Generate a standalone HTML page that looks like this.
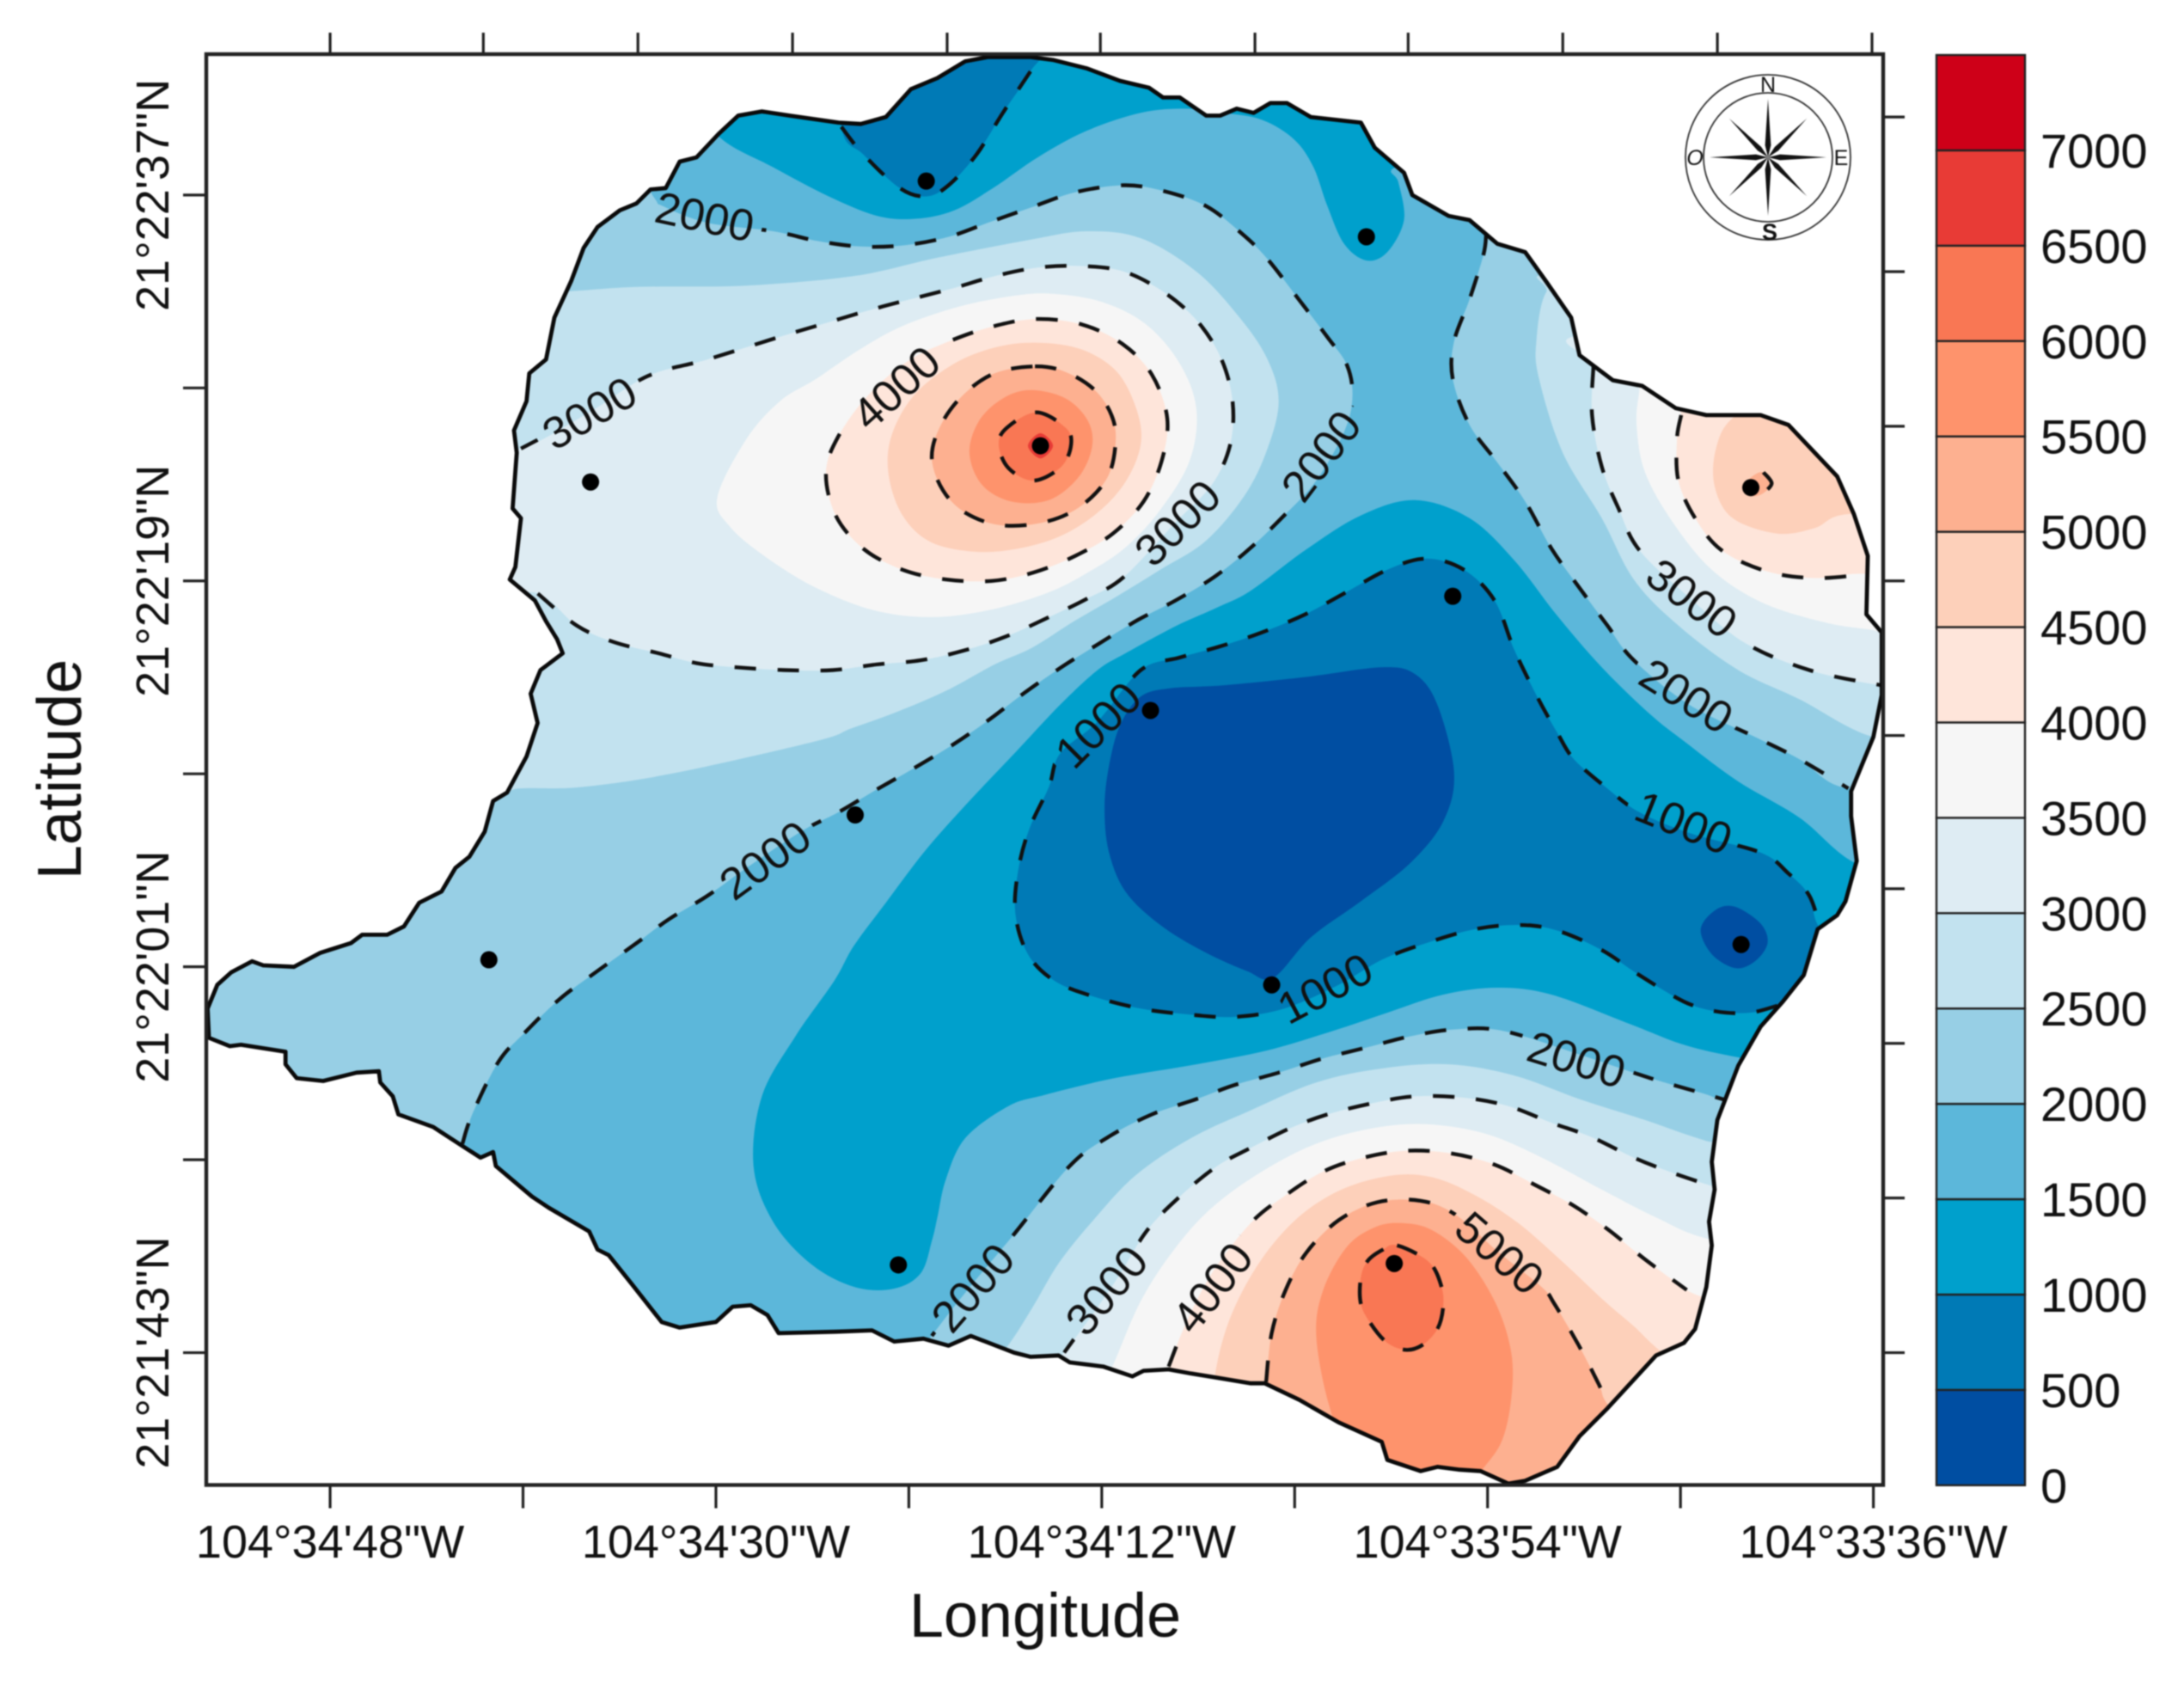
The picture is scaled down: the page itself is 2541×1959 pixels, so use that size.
<!DOCTYPE html>
<html lang="en">
<head>
<meta charset="utf-8">
<title>Contour map of values by longitude and latitude</title>
<style>
html,body{margin:0;padding:0;background:#fff;}
svg{display:block;filter:blur(0.7px);}
text{font-family:"Liberation Sans",sans-serif;fill:#111;}
</style>
</head>
<body>
<svg id="chart" xmlns="http://www.w3.org/2000/svg" width="2541" height="1959" viewBox="0 0 2541 1959">
  <defs>
    <clipPath id="coast-clip"><path id="coast-clip-path" d=""/></clipPath>
    <mask id="label-gaps" maskUnits="userSpaceOnUse" x="0" y="0" width="2541" height="1959">
      <rect x="0" y="0" width="2541" height="1959" fill="#fff"/>
    </mask>
  </defs>
  <g id="fills" clip-path="url(#coast-clip)"></g>
  <g clip-path="url(#coast-clip)"><g id="lines" mask="url(#label-gaps)"></g></g>
  <g id="outline"></g>
  <g id="stations"></g>
  <g id="contour-labels"></g>
  <rect x="240" y="63" width="1951" height="1664.5" fill="none" stroke="#222" stroke-width="4.4"/>
  <g id="axes"></g>
  <text x="1216" y="1904" font-size="72" text-anchor="middle">Longitude</text>
  <text transform="translate(94,895) rotate(-90)" font-size="72" text-anchor="middle">Latitude</text>
  <g id="colorbar"></g>
  <g transform="translate(2057,183)">
    <circle r="96" fill="#fff" stroke="#333" stroke-width="1.8"/>
    <circle r="75" fill="none" stroke="#333" stroke-width="1.8"/>
    <g fill="#111">
      <polygon points="0,-68 3.4,-14 0,0 -3.4,-14"/>
      <polygon points="0,-68 3.4,-14 0,0 -3.4,-14" transform="rotate(90)"/>
      <polygon points="0,-68 3.4,-14 0,0 -3.4,-14" transform="rotate(180)"/>
      <polygon points="0,-68 3.4,-14 0,0 -3.4,-14" transform="rotate(270)"/>
      <polygon points="0,-64 3,-14 0,0 -3,-14" transform="rotate(45)"/>
      <polygon points="0,-64 3,-14 0,0 -3,-14" transform="rotate(135)"/>
      <polygon points="0,-64 3,-14 0,0 -3,-14" transform="rotate(225)"/>
      <polygon points="0,-64 3,-14 0,0 -3,-14" transform="rotate(315)"/>
    </g>
    <text x="0" y="-76" font-size="25" text-anchor="middle">N</text>
    <text x="2" y="96" font-size="27" font-weight="bold" text-anchor="middle">S</text>
    <text x="85" y="9" font-size="25" text-anchor="middle">E</text>
    <text x="-85" y="9" font-size="25" font-style="italic" text-anchor="middle">O</text>
  </g>
</svg>
<script>
// All map geometry is [east, north] in map-grid units (277 units = 18 arc seconds).
const boundary = [[-50,255],[-51,276],[-44,293],[-34,302],[-19,310],[-11,307],[11,306],[30,316],[52,323],[60,329],[78,329],[90,335],[101,352],[117,360],[127,377],[137,385],[148,403],[154,425],[164,431],[178,457],[186,481],[181,502],[188,519],[204,531],[200,541],[192,554],[184,569],[166,584],[170,593],[174,628],[168,635],[171,675],[169,691],[178,712],[180,732],[192,742],[198,772],[210,798],[219,822],[229,837],[245,849],[257,854],[267,864],[278,865],[288,884],[300,887],[316,904],[330,917],[347,920],[367,917],[402,912],[418,911],[436,916],[454,936],[473,944],[493,956],[509,959],[540,959],[556,957],[580,951],[604,942],[625,937],[635,930],[647,930],[666,917],[676,917],[688,922],[700,919],[712,926],[724,926],[741,916],[777,912],[787,894],[808,876],[814,860],[840,845],[855,842],[875,825],[895,819],[910,798],[928,772],[934,745],[958,727],[979,723],[1003,707],[1025,702],[1064,702],[1084,695],[1119,658],[1131,631],[1141,601],[1140,559],[1151,546],[1151,501],[1145,471],[1129,432],[1129,414],[1133,382],[1125,353],[1119,343],[1105,333],[1095,300],[1080,281],[1064,263],[1048,235],[1033,196],[1029,166],[1031,146],[1027,123],[1029,106],[1025,76],[1017,46],[1009,36],[989,27],[954,-11],[934,-31],[918,-53],[895,-63],[883,-65],[863,-56],[848,-55],[832,-53],[820,-56],[796,-48],[792,-35],[761,-21],[733,-5],[708,7],[698,7],[674,11],[655,14],[639,17],[621,16],[613,12],[592,19],[568,22],[560,27],[540,26],[528,29],[497,41],[481,34],[463,39],[442,37],[426,45],[400,44],[359,43],[351,56],[339,63],[326,62],[314,51],[288,47],[275,51],[253,79],[237,99],[229,103],[223,116],[194,133],[182,141],[156,163],[154,173],[145,169],[131,178],[111,191],[86,200],[82,213],[73,223],[72,231],[56,230],[32,224],[13,226],[5,236],[5,245],[-27,250],[-35,249]];

const c2000West = [[132,179],[139,200],[158,238],[178,260],[202,283],[229,303],[257,323],[280,340],[308,357],[336,377],[375,403],[402,417],[429,433],[457,449],[485,466],[511,484],[536,503],[562,521],[589,538],[617,555],[644,569],[672,586],[697,606],[722,630],[745,655],[765,690],[771,715],[767,738],[753,758],[731,787],[710,814],[692,832],[666,852],[635,863],[607,867],[572,862],[540,851],[509,840],[481,830],[450,824],[418,823],[387,827],[355,834],[308,840],[276,852],[269,859]];
const c2000WestOut = [[240,900],[150,800],[140,500],[0,400],[-100,280],[-50,200],[100,140]];
const c2000East = [[867,832],[865,817],[855,785],[844,755],[843,728],[855,695],[875,668],[895,640],[914,606],[934,578],[954,551],[973,526],[1013,494],[1060,471],[1092,455],[1127,434]];
const c2000EastOut = [[1200,440],[1230,720],[1000,850],[880,860]];
const c2000South = [[469,41],[493,72],[528,114],[568,163],[596,184],[627,200],[659,211],[686,221],[718,230],[749,240],[781,248],[812,256],[844,261],[879,260],[934,243],[985,226],[1023,215],[1040,210]];
const c2000SouthOut = [[1100,200],[1100,-100],[500,-100],[440,0]];

const f2500West = [[210,791],[257,794],[336,795],[414,802],[473,815],[540,828],[580,834],[619,829],[659,805],[690,772],[710,742],[718,712],[710,678],[694,645],[666,612],[633,591],[602,572],[571,554],[541,535],[514,523],[479,504],[444,489],[411,477],[386,468],[284,445],[217,435],[172,434],[130,430],[130,600],[170,790]];
const f2500East = [[910,790],[903,755],[905,728],[922,675],[950,628],[973,584],[1005,551],[1048,519],[1092,498],[1145,471],[1200,470],[1200,750],[930,800]];
const f2500South = [[522,32],[541,61],[560,93],[584,123],[615,156],[655,183],[698,203],[745,223],[792,233],[840,236],[887,228],[934,211],[981,196],[1025,181],[1100,160],[1100,-100],[500,-100],[500,10]];

const c3000West = [[174,678],[223,704],[265,730],[308,742],[359,758],[386,766],[423,777],[453,785],[484,793],[515,802],[546,808],[577,809],[607,805],[636,790],[660,769],[677,742],[685,711],[683,680],[670,652],[644,625],[607,586],[580,570],[551,556],[522,543],[492,533],[461,526],[429,523],[398,519],[363,519],[328,521],[300,524],[273,531],[241,539],[214,551],[186,574]];
const c3000WestOut = [[140,580],[140,680]];
const c3000East = [[944,737],[943,702],[950,665],[962,635],[977,605],[1013,571],[1052,539],[1099,519],[1151,508]];
const c3000EastOut = [[1220,500],[1220,750],[945,760]];
const c3000South = [[564,29],[600,79],[623,116],[647,141],[674,163],[698,176],[726,190],[753,200],[785,208],[816,213],[851,212],[883,206],[914,194],[942,184],[973,169],[1001,158],[1031,148]];
const c3000SouthOut = [[1090,130],[1090,-100],[540,-100],[545,10]];

const f3500Center = [[315,643],[336,685],[360,712],[386,728],[417,749],[448,766],[489,780],[530,788],[557,789],[592,783],[623,767],[647,739],[659,706],[654,669],[633,634],[608,607],[581,589],[551,574],[510,562],[468,557],[427,562],[386,578],[350,600],[324,622]];
const f3500East = [[977,720],[975,695],[981,661],[1001,625],[1029,591],[1064,568],[1107,554],[1143,548],[1220,540],[1220,740],[980,740]];
const f3500South = [[600,22],[619,66],[643,103],[670,133],[706,159],[745,179],[785,190],[824,193],[867,186],[907,169],[950,146],[989,126],[1025,111],[1090,100],[1090,-100],[590,-100],[590,0]];

const c4000Center = [[544,771],[577,767],[606,753],[627,731],[638,700],[634,669],[621,640],[599,617],[572,601],[542,589],[512,583],[479,584],[448,591],[420,606],[400,630],[393,661],[402,687],[423,716],[452,741],[484,756],[514,766]];
const c4000East = [[1007,702],[1004,685],[1005,655],[1017,628],[1036,605],[1068,590],[1103,585],[1141,588]];
const c4000EastOut = [[1220,580],[1220,730],[1010,730]];
const c4000South = [[639,19],[651,49],[670,86],[698,122],[723,142],[750,159],[779,169],[810,174],[842,172],[873,164],[901,150],[929,135],[955,117],[981,96],[1011,74]];
const c4000SouthOut = [[1060,40],[1060,-100],[630,-100],[630,0]];

const f4500Center = [[546,754],[577,749],[602,733],[616,706],[619,681],[608,654],[588,632],[561,615],[530,606],[499,604],[468,611],[448,630],[438,659],[440,687],[456,716],[485,739],[516,751]];
const f4500East = [[1044,700],[1032,678],[1031,651],[1044,628],[1076,617],[1103,621],[1127,631],[1200,630],[1200,720],[1080,720]];
const f4500South = [[673,17],[684,56],[705,95],[732,126],[763,146],[798,156],[828,155],[859,142],[890,122],[921,95],[952,66],[973,48],[991,31],[1030,0],[1000,-100],[660,-100],[670,-20]];

const c5000Center = [[543,737],[565,733],[586,720],[598,702],[601,683],[595,657],[575,636],[549,625],[518,623],[493,632],[477,648],[469,671],[475,694],[491,716],[514,732]];
const c5000East = [[1066,661],[1072,653],[1066,646]];
const c5000EastOut = [[1058,644],[1052,650],[1058,658]];
const c5000South = [[709,8],[713,43],[723,74],[738,101],[761,124],[789,137],[820,138],[845,128],[876,101],[907,76],[916,64],[933,35],[948,6],[954,-8]];
const c5000SouthOut = [[980,-40],[900,-100],[700,-100],[705,-20]];

const f5500Center = [[540,720],[565,714],[581,698],[584,679],[574,657],[553,641],[526,640],[505,652],[496,675],[503,698],[520,714]];
const f5500South = [[745,41],[750,74],[767,105],[787,119],[806,122],[828,117],[853,97],[874,64],[885,29],[885,-4],[878,-35],[863,-57],[857,-70],[808,-70],[767,-35],[754,-8]];

const c6000Center = [[544,704],[565,693],[569,681],[562,665],[542,655],[524,664],[517,681],[523,693]];
const c6000South = [[803,106],[826,94],[835,76],[836,61],[832,46],[822,35],[810,31],[796,36],[784,50],[777,64],[777,83],[782,95],[793,103]];
const f6500Center = [[538,680],[547,689],[556,680],[547,671]];

const l1500North = [[316,902],[355,880],[395,859],[430,845],[458,843],[485,849],[513,865],[545,887],[580,906],[619,919],[651,922],[678,919],[706,914],[729,900],[743,880],[753,852],[765,825],[781,813],[796,819],[808,842],[804,869],[800,879],[830,890],[750,970],[400,980],[290,940]];
const l1500Center = [[469,109],[461,86],[442,75],[414,76],[383,92],[355,123],[341,163],[347,213],[371,256],[399,296],[413,321],[436,352],[464,389],[495,424],[530,461],[561,494],[588,519],[608,531],[643,550],[674,564],[698,576],[737,605],[777,630],[816,641],[855,628],[887,598],[918,558],[950,521],[985,487],[1009,468],[1048,439],[1092,413],[1129,382],[1180,360],[1180,240],[1090,235],[1048,241],[1009,250],[970,265],[914,286],[875,291],[836,286],[796,273],[757,260],[710,246],[659,236],[600,226],[550,214],[524,206],[493,183],[479,153],[473,126]];
const c1000North = [[404,909],[420,889],[446,865],[465,859],[481,867],[501,889],[520,919],[540,949]];
const c1000NorthOut = [[560,990],[400,990]];
const c1000Center = [[1076,278],[1056,273],[1032,274],[1009,281],[977,300],[950,318],[918,332],[891,336],[859,333],[824,323],[792,311],[761,293],[722,276],[686,270],[651,272],[619,276],[584,285],[557,296],[538,315],[529,344],[531,375],[539,405],[553,435],[561,459],[588,482],[619,519],[647,528],[676,536],[706,546],[737,559],[765,574],[796,591],[824,599],[851,591],[873,569],[887,534],[903,501],[918,474],[930,455],[954,434],[977,417],[1013,402],[1064,388],[1084,373],[1099,357],[1107,333]];
const c1000CenterOut = [[1140,300]];
const l500Center = [[641,506],[678,508],[737,514],[792,521],[816,516],[832,494],[844,445],[836,410],[812,380],[777,353],[741,327],[714,298],[695,303],[664,317],[633,336],[608,360],[596,389],[593,420],[596,449],[604,479],[619,500]];
const l500East = [[1021,333],[1032,347],[1046,349],[1064,337],[1069,323],[1060,310],[1046,305],[1029,315]];

const stationEast = [465,781,224,547,1057,843,626,414,151,1050,713,801,445];
const stationNorth = [870,830,654,680,650,572,490,415,311,322,293,93,92];

const labelText = ["2000","3000","4000","3000","2000","3000","2000","1000","1000","2000","1000","2000","2000","3000","4000","5000"];
const labelEast = [306,223,443,645,748,1015,1011,1009,588,349,751,932,498,594,670,877];
const labelNorth = [845,704,722,625,673,571,501,410,480,383,291,240,76,74,76,101];
const labelAngle = [12,-30,-42,-45,-53,37,32,22,-45,-36,-28,17,-49,-50,-52,41];

const bandValues = [0,500,1000,1500,2000,2500,3000,3500,4000,4500,5000,5500,6000,6500,7000,7500];
const bandColors = ["#004ea2","#007ab6","#00a0cc","#5cb7da","#97cfe5","#c2e2ef","#deecf3","#f6f6f6","#fee5da","#fdd0ba","#fdb090","#fe936c","#f97754","#e83b36","#ce0018"];
const colorbarTicks = [0,500,1000,1500,2000,2500,3000,3500,4000,4500,5000,5500,6000,6500,7000];

const lonTickSeconds = [108,99,90,81,72,63,54,45,36];
const lonTickLabels = ["104°34'48\"W","","104°34'30\"W","","104°34'12\"W","","104°33'54\"W","","104°33'36\"W"];
const latTickSeconds = [97,88,79,70,61,52,43];
const latTickLabels = ["21°22'37\"N","","21°22'19\"N","","21°22'01\"N","","21°21'43\"N"];
const topTickEast = [37,147,258,369,480,590,701,811,922,1033,1144];
const rightTickNorth = [916,805,694,583,472,362,251,140,29];

const UNIT = 2541 / 1568;
const xAxis = e => (e + 200) * UNIT;
const yAxis = n => (1000 - n) * UNIT;
const lonToEast = s => 37 + (108 - s) * 277 / 18;
const latToNorth = s => 29 + (s - 43) * 277 / 18;
const colorY = v => 1727.8 - v * (1727.8 - 64) / 7500;

const NS = 'http://www.w3.org/2000/svg';
function mk(tag, attrs, parent) {
  const el = document.createElementNS(NS, tag);
  for (const k in attrs) el.setAttribute(k, attrs[k]);
  parent.appendChild(el);
  return el;
}
const toPx = pts => pts.map(p => [xAxis(p[0]), yAxis(p[1])]);
function polyPath(pts) {
  return 'M' + toPx(pts).map(p => p[0].toFixed(1) + ' ' + p[1].toFixed(1)).join('L') + 'Z';
}
function smoothPath(pts, closed) {
  const q = toPx(pts), n = q.length;
  const at = i => closed ? q[(i + n) % n] : q[Math.max(0, Math.min(n - 1, i))];
  let d = 'M' + q[0][0].toFixed(1) + ' ' + q[0][1].toFixed(1);
  const last = closed ? n : n - 1;
  for (let i = 0; i < last; i++) {
    const p0 = at(i - 1), p1 = at(i), p2 = at(i + 1), p3 = at(i + 2);
    d += 'C' + (p1[0] + (p2[0] - p0[0]) / 6).toFixed(1) + ' ' + (p1[1] + (p2[1] - p0[1]) / 6).toFixed(1) + ' ' +
      (p2[0] - (p3[0] - p1[0]) / 6).toFixed(1) + ' ' + (p2[1] - (p3[1] - p1[1]) / 6).toFixed(1) + ' ' +
      p2[0].toFixed(1) + ' ' + p2[1].toFixed(1);
  }
  return d + (closed ? 'Z' : '');
}

document.getElementById('coast-clip-path').setAttribute('d', polyPath(boundary));

const fillsG = document.getElementById('fills');
const basePath = mk('path', {d: polyPath(boundary), fill: bandColors[3]}, fillsG);



// Painter's order: [band lower value, region outline, outside closure]
const layers = [
  [2000,c2000West,c2000WestOut],[2000,c2000East,c2000EastOut],[2000,c2000South,c2000SouthOut],
  [2500,f2500West,[]],[2500,f2500East,[]],[2500,f2500South,[]],
  [3000,c3000West,c3000WestOut],[3000,c3000East,c3000EastOut],[3000,c3000South,c3000SouthOut],
  [3500,f3500Center,[]],[3500,f3500East,[]],[3500,f3500South,[]],
  [4000,c4000Center,[]],[4000,c4000East,c4000EastOut],[4000,c4000South,c4000SouthOut],
  [4500,f4500Center,[]],[4500,f4500East,[]],[4500,f4500South,[]],
  [5000,c5000Center,[]],[5000,c5000East,c5000EastOut],[5000,c5000South,c5000SouthOut],
  [5500,f5500Center,[]],[5500,f5500South,[]],
  [6000,c6000Center,[]],[6000,c6000South,[]],[6500,f6500Center,[]],
  [1000,l1500North,[]],[1000,l1500Center,[]],
  [500,c1000North,c1000NorthOut],[500,c1000Center,c1000CenterOut],
  [0,l500Center,[]],[0,l500East,[]]
];
layers.forEach(layer => {
  const f = mk('path', {d: smoothPath(layer[1].concat(layer[2]), true), fill: bandColors[bandValues.indexOf(layer[0])]}, fillsG);
  
  
});

// Dashed isolines: [points, closed]
const isolines = [
  [c2000West,false],[c2000East,false],[c2000South,false],
  [c3000West,false],[c3000East,false],[c3000South,false],
  [c4000Center,true],[c4000East,false],[c4000South,false],
  [c5000Center,true],[c5000East,false],[c5000South,false],
  [c6000Center,true],[c6000South,true],
  [c1000North,false],[c1000Center,false]
];
const linesG = document.getElementById('lines');
isolines.forEach(item => {
  const l = mk('path', {d: smoothPath(item[0], item[1]), fill: 'none', stroke: '#111', 'stroke-width': 4.4, 'stroke-dasharray': '25 25'}, linesG);
  
  
});

const outlineG = document.getElementById('outline');
const coast = mk('path', {d: polyPath(boundary), fill: 'none', stroke: '#0a0a0a', 'stroke-width': 4.8, 'stroke-linejoin': 'round'}, outlineG);



const stationG = document.getElementById('stations');
stationEast.forEach((e, i) => {
  const c = mk('circle', {cx: xAxis(e), cy: yAxis(stationNorth[i]), r: 10, fill: '#000'}, stationG);
  
  
});

const labelG = document.getElementById('contour-labels');
const maskEl = document.getElementById('label-gaps');
labelText.forEach((t, i) => {
  const x = xAxis(labelEast[i]), y = yAxis(labelNorth[i]), a = labelAngle[i];
  mk('rect', {x: -68, y: -24, width: 136, height: 48, fill: '#000', transform: 'translate(' + x + ',' + y + ') rotate(' + a + ')'}, maskEl);
  const tx = mk('text', {transform: 'translate(' + x + ',' + y + ') rotate(' + a + ')', 'font-size': 52, 'text-anchor': 'middle', y: 19}, labelG);
  tx.textContent = t;
  
  
});

const axesG = document.getElementById('axes');
const FRAME_L = 240, FRAME_R = 2191, FRAME_T = 63, FRAME_B = 1727.5;
lonTickSeconds.forEach((s, i) => {
  const x = xAxis(lonToEast(s));
  const t = mk('line', {x1: x, x2: x, y1: FRAME_B, y2: FRAME_B + 27, stroke: '#222', 'stroke-width': 3.2}, axesG);
  
  
  if (lonTickLabels[i]) {
    const lab = mk('text', {x: x, y: 1812, 'font-size': 54, 'text-anchor': 'middle'}, axesG);
    lab.textContent = lonTickLabels[i];
    
    
  }
});
latTickSeconds.forEach((s, i) => {
  const y = yAxis(latToNorth(s));
  const t = mk('line', {x1: FRAME_L - 27, x2: FRAME_L, y1: y, y2: y, stroke: '#222', 'stroke-width': 3.2}, axesG);
  
  
  if (latTickLabels[i]) {
    const lab = mk('text', {transform: 'translate(196,' + y + ') rotate(-90)', 'font-size': 54, 'text-anchor': 'middle'}, axesG);
    lab.textContent = latTickLabels[i];
    
    
  }
});
topTickEast.forEach(e => {
  const x = xAxis(e);
  const t = mk('line', {x1: x, x2: x, y1: FRAME_T - 25, y2: FRAME_T, stroke: '#222', 'stroke-width': 3.2}, axesG);
  
  
});
rightTickNorth.forEach(n => {
  const y = yAxis(n);
  const t = mk('line', {x1: FRAME_R, x2: FRAME_R + 25, y1: y, y2: y, stroke: '#222', 'stroke-width': 3.2}, axesG);
  
  
});

const barG = document.getElementById('colorbar');
bandColors.forEach((col, i) => {
  const y1 = colorY(bandValues[i + 1]), y0 = colorY(bandValues[i]);
  const r = mk('rect', {x: 2253, y: y1, width: 103, height: y0 - y1, fill: col, stroke: '#222', 'stroke-width': 2.4}, barG);
  
  
});
colorbarTicks.forEach(v => {
  const t = mk('text', {x: 2374, y: colorY(v) + 20, 'font-size': 56}, barG);
  t.textContent = String(v);
  
  
});
</script>
</body>
</html>
